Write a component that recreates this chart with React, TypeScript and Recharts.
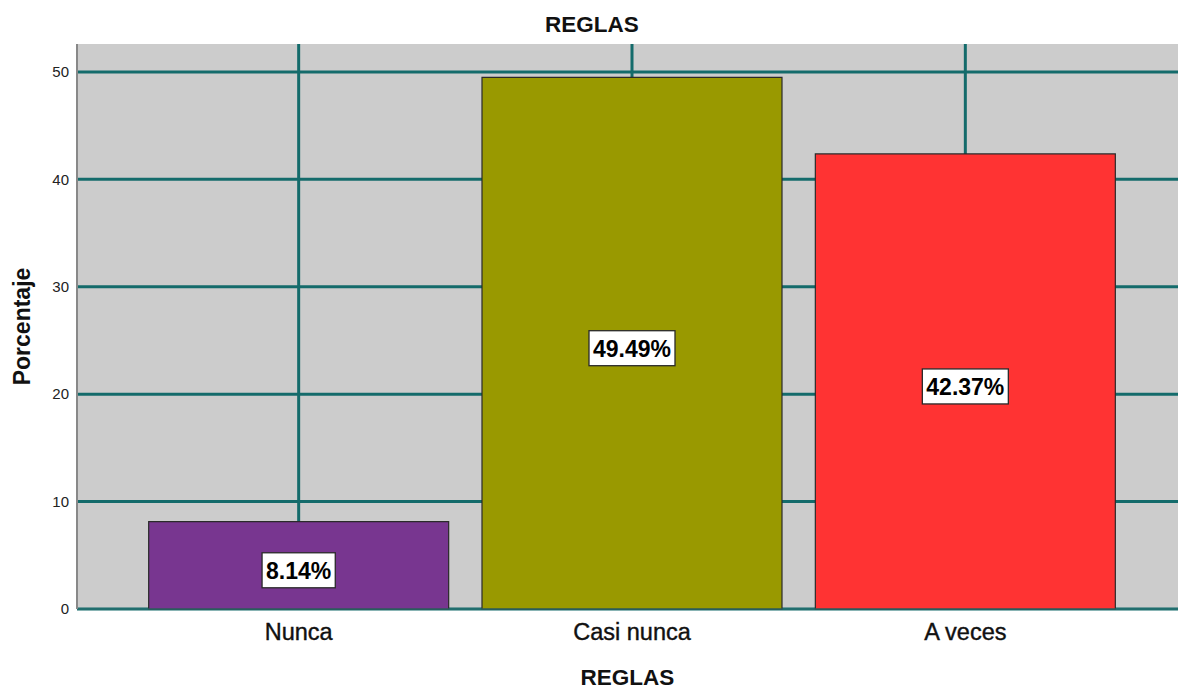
import React from 'react';
import { BarChart, Bar, XAxis, YAxis, CartesianGrid, Cell, LabelList } from 'recharts';

const categories = ['Nunca', 'Casi nunca', 'A veces'];
const percentages = [8.14, 49.49, 42.37];
const barColors = ['#783690', '#999900', '#ff3333'];
const yTicks = [0, 10, 20, 30, 40, 50];

const data = categories.map((name, i) => ({ name, value: percentages[i] }));

const FONT = '"Liberation Sans", Arial, sans-serif';

// rough Arial Bold advance widths, to size the white box around each label
const charEm = (ch: string) => (ch === '.' ? 0.278 : ch === '%' ? 0.889 : 0.556);

const BoxLabel = (props: any) => {
  const { x, y, width, height, value } = props;
  const cx = x + width / 2;
  const cy = y + height / 2 + 5;
  const text = `${value.toFixed(2)}%`;
  const fs = 23;
  const w = text.split('').reduce((s, ch) => s + charEm(ch), 0) * fs + 8;
  return (
    <g>
      <rect x={cx - w / 2} y={cy - 17.5} width={w} height={35} fill="#ffffff" stroke="#2a2a2a" strokeWidth={1.3} />
      <text x={cx} y={cy + 1} textAnchor="middle" dominantBaseline="central" fontFamily={FONT} fontWeight="bold" fontSize={fs} fill="#000">
        {text}
      </text>
    </g>
  );
};

export default function App() {
  return (
    <div style={{ position: 'absolute', left: 0, top: 0, width: 1178, height: 689, background: '#fff', fontFamily: FONT }}>
      <div style={{ position: 'absolute', top: 12, left: 0, width: 1184, textAlign: 'center', fontWeight: 'bold', fontSize: 22.5, color: '#111' }}>
        REGLAS
      </div>
      <BarChart
        width={1178}
        height={689}
        data={data}
        margin={{ top: 44, right: 0, left: 0, bottom: 0 }}
        barCategoryGap="5%"
      >
        <CartesianGrid
          fill="#cccccc"
          stroke="#146b6b"
          strokeWidth={3}
          horizontalValues={yTicks}
          verticalValues={categories}
        />
        <XAxis
          dataKey="name"
          height={80}
          padding={{ left: 55, right: 46 }}
          tickLine={false}
          axisLine={{ stroke: '#2e7272', strokeWidth: 1 }}
          tickMargin={8}
          tick={{ fontFamily: FONT, fontSize: 23.5, fill: '#111', stroke: '#111', strokeWidth: 0.4 }}
          label={{ value: 'REGLAS', position: 'insideBottom', offset: 4, style: { fontFamily: FONT, fontWeight: 'bold', fontSize: 22.5, fill: '#111' } }}
        />
        <YAxis
          width={77}
          domain={[0, 52.6]}
          ticks={yTicks}
          tickLine={false}
          axisLine={{ stroke: '#888888', strokeWidth: 2 }}
          tick={{ fontFamily: FONT, fontSize: 15, fill: '#222' }}
          label={{ value: 'Porcentaje', angle: -90, position: 'insideLeft', offset: 22, style: { fontFamily: FONT, fontWeight: 'bold', fontSize: 23, fill: '#111', textAnchor: 'middle' } }}
        />
        <Bar dataKey="value" stroke="#2a2a2a" strokeWidth={1.2} isAnimationActive={false}>
          {data.map((d, i) => (
            <Cell key={d.name} fill={barColors[i]} />
          ))}
          <LabelList dataKey="value" content={BoxLabel} />
        </Bar>
      </BarChart>
    </div>
  );
}
